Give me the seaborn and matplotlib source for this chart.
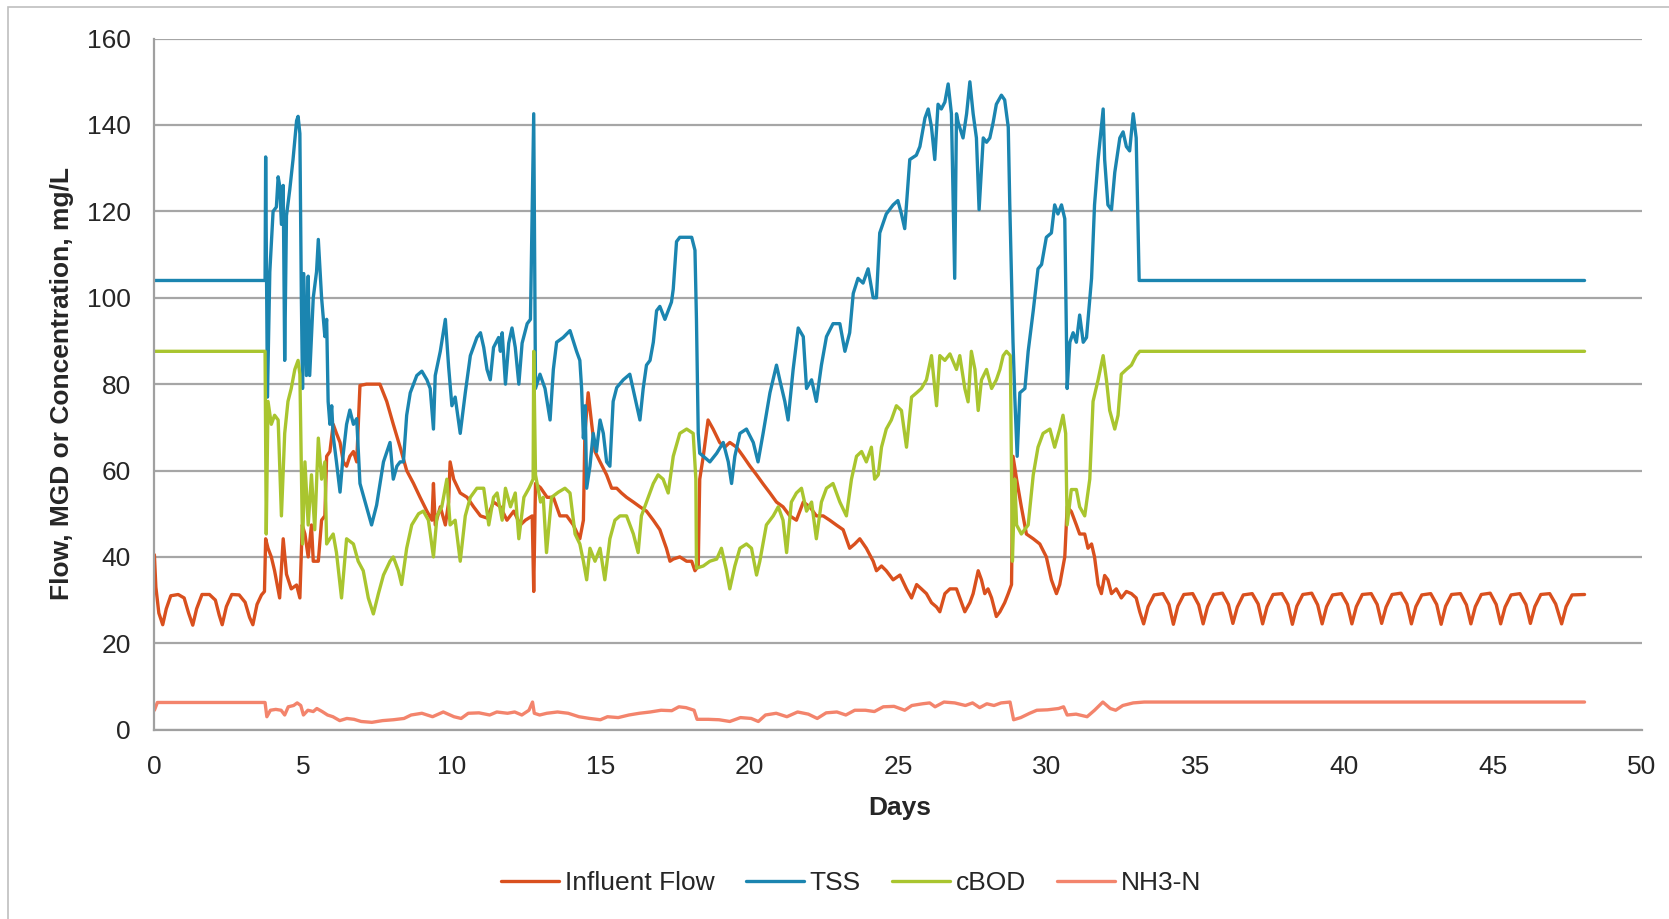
import pandas as pd
import matplotlib.pyplot as plt
import seaborn as sns
from matplotlib.patches import Rectangle

# Series (days, value)
flow_days = [0, 0.05, 0.15, 0.28, 0.4, 0.55, 0.8, 1.0, 1.15, 1.29, 1.42, 1.6, 1.85, 2.05, 2.18, 2.28, 2.42, 2.6,
             2.85, 3.05, 3.2, 3.31, 3.45, 3.6, 3.7, 3.74, 3.82, 3.93, 4.04, 4.21, 4.33, 4.44, 4.6, 4.78, 4.89,
             4.97, 5.06, 5.17, 5.28, 5.34, 5.51, 5.62, 5.73, 5.79, 5.9, 6.01, 6.12, 6.24, 6.35, 6.46, 6.57,
             6.69, 6.8, 6.91, 7.13, 7.36, 7.58, 7.81, 8.03, 8.26, 8.48, 8.71, 8.93, 9.16, 9.33, 9.38, 9.44,
             9.61, 9.78, 9.89, 9.94, 10.06, 10.28, 10.51, 10.73, 10.96, 11.18, 11.4, 11.63, 11.85, 12.08,
             12.3, 12.47, 12.7, 12.75, 12.81, 12.98, 13.2, 13.41, 13.63, 13.86, 14.08, 14.3, 14.42, 14.47,
             14.58, 14.7, 14.81, 14.98, 15.2, 15.37, 15.54, 15.7, 15.87, 16.1, 16.32, 16.54, 16.77, 16.99,
             17.21, 17.33, 17.44, 17.66, 17.89, 18.06, 18.17, 18.28, 18.33, 18.45, 18.61, 18.78, 19.0, 19.17,
             19.34, 19.57, 19.79, 20.02, 20.24, 20.46, 20.69, 20.91, 21.13, 21.36, 21.58, 21.81, 22.03,
             22.25, 22.48, 22.7, 22.92, 23.15, 23.37, 23.54, 23.71, 23.93, 24.16, 24.27, 24.44, 24.6, 24.83,
             25.06, 25.28, 25.45, 25.62, 25.78, 25.95, 26.12, 26.29, 26.4, 26.57, 26.74, 26.96, 27.07,
             27.24, 27.41, 27.52, 27.69, 27.8, 27.91, 28.02, 28.14, 28.3, 28.42, 28.58, 28.7, 28.81, 28.86,
             28.98, 29.14, 29.31, 29.54, 29.76, 29.98, 30.15, 30.32, 30.43, 30.6, 30.68, 30.82, 30.99, 31.1,
             31.27, 31.38, 31.5, 31.6, 31.72, 31.83, 31.94, 32.05, 32.17, 32.33, 32.5, 32.67, 32.84, 33.0,
             33.12,
             33.25, 33.4, 33.6, 33.9, 34.1,
             34.25, 34.4, 34.6, 34.9, 35.1,
             35.25, 35.4, 35.6, 35.9, 36.1,
             36.25, 36.4, 36.6, 36.9, 37.1,
             37.25, 37.4, 37.6, 37.9, 38.1,
             38.25, 38.4, 38.6, 38.9, 39.1,
             39.25, 39.4, 39.6, 39.9, 40.1,
             40.25, 40.4, 40.6, 40.9, 41.1,
             41.25, 41.4, 41.6, 41.9, 42.1,
             42.25, 42.4, 42.6, 42.9, 43.1,
             43.25, 43.4, 43.6, 43.9, 44.1,
             44.25, 44.4, 44.6, 44.9, 45.1,
             45.25, 45.4, 45.6, 45.9, 46.1,
             46.25, 46.4, 46.6, 46.9, 47.1,
             47.3, 47.45, 47.65, 48.07]
flow_vals = [40.5, 33, 27, 24.3, 28, 31, 31.3, 30.5, 27, 24.2, 28, 31.3, 31.3, 30, 26.5, 24.3, 28.5, 31.3,
             31.2, 29.5, 26, 24.3, 29, 31.2, 32, 44.2, 42, 40, 36.8, 30.5, 44.2, 36, 32.6, 33.5, 30.5,
             47.4, 45.3, 40, 47.4, 39, 39, 48.5, 49.5, 63.3, 64.4, 70.7, 68.6, 66.5, 62, 61, 63.3,
             64.4, 62, 79.7, 80, 80, 80, 76, 70.7, 65.4, 60, 57, 53.8, 50.6, 48.5, 57, 47.4,
             51.6, 47.4, 52.7, 62, 58, 54.8, 53.8, 51.6, 49.5, 49, 52.7, 51.6, 48.5, 50.6,
             47.4, 48.5, 49.5, 32, 57, 56, 53.8, 53.8, 49.5, 49.5, 47.4, 44.2, 48.5, 68.6,
             78, 70.7, 64.4, 62, 59, 55.9, 55.9, 54.8, 53.8, 52.7, 51.6, 50.6, 48.5, 46.3,
             42, 39, 39.5, 40, 39, 39, 36.8, 37.9, 58, 63.3, 71.7, 69.6, 66.5, 65.4,
             66.5, 65.4, 63.3, 61, 59, 56.9, 54.8, 52.7, 51.6, 49.5, 48.5, 52.7, 51.6,
             49.5, 49.5, 48.5, 47.4, 46.3, 42, 43, 44.2, 42, 39, 36.8, 37.9, 36.8, 34.7,
             35.8, 32.6, 30.5, 33.6, 32.6, 31.5, 29.4, 28.4, 27.3, 31.5, 32.6, 32.6, 30.5,
             27.3, 29.4, 31.5, 36.8, 34.7, 31.5, 32.6, 30.5, 26.2, 27.3, 29.4, 31.5, 33.6, 63.3,
             58, 51.6, 45.3, 44.2, 43, 40, 34.7, 31.5, 33.6, 40, 51.6, 50.5, 47.4, 45.3,
             45.3, 42, 43, 40, 33.6, 31.5, 35.7, 34.7, 31.5, 32.6, 30.5, 32, 31.5, 30.5,
             27.3,
             24.5, 28.5, 31.2, 31.5, 29.0,
             24.4, 28.6, 31.3, 31.5, 28.9,
             24.5, 28.5, 31.3, 31.6, 29.0,
             24.6, 28.4, 31.2, 31.5, 29.1,
             24.5, 28.5, 31.3, 31.5, 29.0,
             24.4, 28.6, 31.3, 31.6, 28.9,
             24.5, 28.5, 31.2, 31.5, 29.0,
             24.5, 28.5, 31.3, 31.5, 29.0,
             24.6, 28.4, 31.3, 31.6, 29.1,
             24.5, 28.5, 31.2, 31.5, 29.0,
             24.4, 28.6, 31.3, 31.5, 28.9,
             24.5, 28.5, 31.3, 31.6, 29.0,
             24.5, 28.4, 31.2, 31.5, 29.0,
             24.6, 28.5, 31.3, 31.5, 29.1,
             24.5, 28.5, 31.2, 31.3]

tss_days = [0, 3.72, 3.74, 3.80, 3.88, 3.99, 4.10, 4.16, 4.21, 4.27, 4.33, 4.38, 4.44, 4.55, 4.66, 4.78,
            4.83, 4.89, 4.94, 4.98, 5.02, 5.11, 5.17, 5.22, 5.34, 5.45, 5.51, 5.62, 5.73, 5.79, 5.84,
            5.90, 5.96, 6.01, 6.12, 6.24, 6.35, 6.46, 6.57, 6.69, 6.80, 6.91, 7.13, 7.30, 7.47, 7.70,
            7.92, 8.03, 8.15, 8.26, 8.37, 8.48, 8.60, 8.71, 8.82, 8.99, 9.16, 9.27, 9.38, 9.44, 9.61,
            9.78, 9.89, 10.0, 10.11, 10.28, 10.45, 10.62, 10.84, 10.96, 11.07, 11.18, 11.29, 11.40,
            11.57, 11.63, 11.69, 11.80, 11.91, 12.02, 12.13, 12.25, 12.36, 12.53, 12.64, 12.75, 12.81,
            12.96, 13.13, 13.3, 13.41, 13.52, 13.74, 13.97, 14.19, 14.3, 14.36, 14.42, 14.48, 14.53,
            14.64, 14.75, 14.86, 14.98, 15.09, 15.2, 15.31, 15.42, 15.54, 15.76, 15.98, 16.15, 16.32,
            16.43, 16.54, 16.66, 16.77, 16.88, 16.99, 17.16, 17.27, 17.38, 17.44, 17.55, 17.66, 17.89,
            18.06, 18.17, 18.22, 18.28, 18.33, 18.45, 18.67, 18.9, 19.12, 19.29, 19.4, 19.51, 19.68,
            19.9, 20.13, 20.29, 20.46, 20.69, 20.91, 21.02, 21.19, 21.3, 21.47, 21.64, 21.81, 21.92,
            22.09, 22.25, 22.42, 22.59, 22.81, 23.04, 23.21, 23.37, 23.49, 23.65, 23.82, 23.99, 24.16,
            24.27, 24.38, 24.6, 24.83, 24.99, 25.11, 25.22, 25.39, 25.61, 25.73, 25.9, 26.01, 26.12,
            26.23, 26.34, 26.45, 26.57, 26.68, 26.79, 26.9, 26.96, 27.02, 27.18, 27.3, 27.41, 27.52,
            27.63, 27.72, 27.8, 27.86, 27.97, 28.08, 28.19, 28.3, 28.47, 28.58, 28.7, 28.75, 28.81,
            28.86, 28.92, 29.0, 29.09, 29.26, 29.37, 29.54, 29.7, 29.82, 29.98, 30.15, 30.26, 30.37,
            30.49, 30.6, 30.68, 30.77, 30.88, 30.99, 31.1, 31.22, 31.33, 31.5, 31.6, 31.72, 31.83,
            31.89, 31.94, 32.05, 32.17, 32.28, 32.45, 32.56, 32.67, 32.78, 32.9, 33.0, 33.1, 48.07]
tss_vals = [104, 104, 132.6, 77, 106, 120, 121, 128, 126, 117, 126, 85.5, 119, 125, 132, 141,
            142, 138, 100, 79, 105.6, 82, 105, 82, 100, 106, 113.5, 100, 91, 95, 76,
            70.7, 75, 68, 62, 55, 64, 70.7, 74, 70.7, 72, 57, 51.6, 47.4, 52, 62,
            66.5, 58, 61, 62, 62, 72.8, 78, 80, 82, 83, 81, 79, 69.6, 82, 87.6,
            95, 84, 75, 77, 68.6, 78, 86.6, 90.8, 91.9, 88.5, 83.4, 81, 88.5,
            90.8, 87.6, 91.9, 80, 89.5, 93, 88.5, 80, 89.5, 94, 95, 142.6, 79,
            82.3, 79, 71.7, 83.4, 89.7, 90.8, 92.4, 87.6, 85.5, 79, 67.5, 75, 55.9,
            61, 68.6, 64.4, 71.7, 68.6, 62, 61, 76, 79.2, 81, 82.3, 77, 71.7,
            79, 84.4, 85.5, 89.7, 97, 98, 95, 97, 99, 102, 113, 114, 114,
            114, 111, 95, 68.6, 64, 63.3, 62, 64, 66.5, 62, 57, 63.3, 68.6,
            69.6, 66.5, 62, 68.6, 78, 84.4, 81, 76, 71.7, 83.4, 93, 91, 79,
            81, 76, 84.4, 91, 94, 94, 87.6, 91.9, 101, 104.5, 103.4, 106.7, 100,
            100, 115, 119.4, 121.5, 122.5, 119.4, 116, 132, 133, 135, 141.6, 143.7, 139.5,
            132, 144.8, 143.7, 145.3, 149.5, 142.6, 104.5, 142.6, 140.5, 137, 142.6, 150, 142.6,
            137, 120.4, 130, 137, 136, 137, 140.5, 144.8, 146.9, 145.8, 139.5, 122, 104.5,
            89.7, 77, 63.3, 78, 79, 87.6, 97, 106.7, 107.7, 114, 115, 121.5, 119.4,
            121.5, 118.3, 79, 89.7, 91.9, 89.7, 96, 89.7, 90.8, 104.5, 121.5, 132, 139.5,
            143.7, 132, 121.5, 120.4, 129, 137, 138.4, 135, 134, 142.6, 137, 104, 104]

cbod_days = [0, 3.72, 3.76, 3.82, 3.93, 4.04, 4.16, 4.27, 4.38, 4.49, 4.6, 4.72, 4.83, 4.89, 4.98, 5.06,
             5.17, 5.28, 5.39, 5.51, 5.62, 5.73, 5.79, 5.9, 6.01, 6.12, 6.29, 6.46, 6.69, 6.85, 7.02,
             7.19, 7.36, 7.53, 7.7, 7.92, 8.03, 8.2, 8.31, 8.48, 8.65, 8.88, 9.04, 9.21, 9.38, 9.5,
             9.66, 9.83, 9.94, 10.11, 10.28, 10.45, 10.62, 10.84, 11.07, 11.24, 11.4, 11.52, 11.69,
             11.8, 11.97, 12.13, 12.25, 12.42, 12.59, 12.73, 12.75, 12.81, 12.98, 13.07, 13.18, 13.35,
             13.58, 13.8, 13.97, 14.14, 14.3, 14.42, 14.53, 14.64, 14.81, 14.98, 15.14, 15.31, 15.48,
             15.65, 15.87, 16.1, 16.26, 16.37, 16.54, 16.77, 16.93, 17.1, 17.27, 17.44, 17.66, 17.89,
             18.11, 18.2, 18.22, 18.45, 18.67, 18.9, 19.06, 19.23, 19.34, 19.51, 19.68, 19.9, 20.07,
             20.24, 20.35, 20.57, 20.8, 20.97, 21.13, 21.25, 21.41, 21.58, 21.75, 21.92, 22.09, 22.25,
             22.42, 22.59, 22.81, 23.04, 23.26, 23.43, 23.6, 23.77, 23.93, 24.1, 24.21, 24.33, 24.44,
             24.6, 24.77, 24.94, 25.11, 25.28, 25.45, 25.62, 25.78, 25.95, 26.12, 26.29, 26.4, 26.57,
             26.74, 26.96, 27.07, 27.24, 27.35, 27.46, 27.58, 27.69, 27.8, 27.97, 28.14, 28.3, 28.42,
             28.53, 28.64, 28.77, 28.81, 28.84, 28.92, 28.98, 29.14, 29.37, 29.54, 29.7, 29.87, 30.1,
             30.26, 30.43, 30.54, 30.63, 30.68, 30.82, 30.99, 31.1, 31.27, 31.44, 31.55, 31.72, 31.89,
             32.0, 32.11, 32.28, 32.39, 32.5, 32.67, 32.84, 33.0, 33.12, 48.07]
cbod_vals = [87.6, 87.6, 45.3, 76, 70.7, 72.8, 71.7, 49.5, 68.6, 76, 79, 83.4, 85.5, 82.3, 43, 62,
             47.4, 59, 46.3, 67.5, 58, 62, 43, 44.2, 45.3, 41, 30.5, 44.2, 43, 39, 36.8,
             30.5, 26.8, 31.5, 35.8, 39, 40, 36.8, 33.6, 42, 47.4, 50, 50.6, 48.5, 40, 49.5,
             51.6, 58, 47.4, 48.5, 39, 49.5, 53.8, 55.9, 55.9, 47.4, 53.8, 54.8, 48.5,
             55.9, 51.6, 54.8, 44.2, 53.8, 55.9, 58, 87.6, 59, 52.7, 53.8, 41, 53.8,
             55, 55.9, 54.8, 45.3, 43, 39, 34.7, 42, 39, 42, 34.7, 44.2, 48.5,
             49.5, 49.5, 45.3, 41, 49.5, 52.7, 57, 59, 58, 54.8, 63.3, 68.6, 69.6,
             68.6, 58, 37.4, 37.9, 39, 39.5, 42, 36.8, 32.6, 37.9, 42, 43, 42,
             35.8, 39, 47.4, 49.5, 51.6, 48.5, 41, 52.7, 54.8, 55.9, 50.6, 52.7, 44.2,
             52.7, 55.9, 57, 52.7, 49.5, 58, 63.3, 64.4, 62, 65.4, 58, 59, 65.4,
             69.6, 71.7, 75, 73.9, 65.4, 77, 78, 79, 81, 86.6, 75, 86.6, 85.5,
             87, 83.4, 86.6, 79, 75.9, 87.6, 83.4, 73.9, 81, 83.4, 79, 81, 83.4,
             86.6, 87.6, 86.6, 58, 39, 58, 47.4, 45.3, 47.4, 59, 65.4, 68.6, 69.6,
             65.4, 69.6, 72.8, 68.6, 47.4, 55.6, 55.6, 51.6, 49.5, 58, 76, 81, 86.6,
             81, 73.9, 69.6, 72.8, 82.3, 83.4, 84.4, 86.6, 87.6, 87.6]

nh3_days = [0, 0.1, 3.72, 3.78, 3.9, 4.08, 4.26, 4.38, 4.5, 4.68, 4.8, 4.92, 5.01, 5.16, 5.34, 5.46, 5.64,
            5.82, 6.0, 6.23, 6.47, 6.71, 6.95, 7.31, 7.67, 8.03, 8.39, 8.63, 8.99, 9.35, 9.71, 10.07,
            10.31, 10.55, 10.91, 11.27, 11.51, 11.87, 12.11, 12.35, 12.59, 12.71, 12.77, 12.95, 13.19,
            13.55, 13.91, 14.27, 14.63, 14.99, 15.23, 15.59, 15.95, 16.3, 16.67, 17.03, 17.39, 17.63,
            17.87, 18.14, 18.24, 18.62, 18.98, 19.34, 19.7, 20.06, 20.3, 20.54, 20.9, 21.26, 21.62,
            21.98, 22.28, 22.58, 22.94, 23.24, 23.54, 23.9, 24.2, 24.5, 24.86, 25.22, 25.46, 25.82,
            26.06, 26.24, 26.54, 26.9, 27.26, 27.5, 27.74, 27.98, 28.22, 28.46, 28.76, 28.88, 29.12,
            29.42, 29.66, 30.02, 30.39, 30.56, 30.68, 30.98, 31.35, 31.6, 31.88, 32.13, 32.31, 32.55,
            32.9, 33.27, 48.07]
nh3_vals = [4.5, 6.3, 6.3, 3.0, 4.5, 4.7, 4.5, 3.4, 5.3, 5.6, 6.2, 5.6, 3.4, 4.5, 4.2, 4.9, 4.2,
            3.4, 3.0, 2.1, 2.6, 2.4, 1.9, 1.7, 2.1, 2.3, 2.6, 3.4, 3.8, 3.0, 4.1, 3.0,
            2.6, 3.8, 3.9, 3.4, 4.1, 3.8, 4.1, 3.4, 4.5, 6.4, 3.8, 3.4, 3.8,
            4.1, 3.8, 3.0, 2.6, 2.3, 3.0, 2.8, 3.4, 3.8, 4.1, 4.5, 4.4, 5.3,
            5.1, 4.5, 2.4, 2.4, 2.3, 1.9, 2.8, 2.6, 1.9, 3.4, 3.8, 3.0, 4.1,
            3.6, 2.6, 3.9, 4.1, 3.4, 4.5, 4.5, 4.2, 5.3, 5.4, 4.5, 5.6, 6.0,
            6.2, 5.3, 6.4, 6.2, 5.6, 6.2, 5.1, 6.0, 5.6, 6.2, 6.4, 2.3, 2.8,
            3.8, 4.5, 4.6, 4.9, 5.3, 3.4, 3.6, 3.0, 4.5, 6.4, 4.9, 4.5, 5.6,
            6.2, 6.4, 6.4]

series_names = ["Influent Flow", "TSS", "cBOD", "NH3-N"]
colors = {"Influent Flow": "#D9501E", "TSS": "#1B85B0", "cBOD": "#A9C52F", "NH3-N": "#F3846C"}

frames = []
for name, d, v in zip(series_names,
                      [flow_days, tss_days, cbod_days, nh3_days],
                      [flow_vals, tss_vals, cbod_vals, nh3_vals]):
    frames.append(pd.DataFrame({"Days": d, "Value": v, "Series": name}))
df = pd.concat(frames, ignore_index=True)

sns.set_theme(style="white")
plt.rcParams["font.family"] = ["Liberation Sans", "DejaVu Sans"]

fig = plt.figure(figsize=(16.69, 9.19), dpi=100)
ax = fig.add_axes([0.0925, 0.206, 0.8913, 0.752])

sns.lineplot(data=df, x="Days", y="Value", hue="Series", hue_order=series_names,
             palette=colors, estimator=None, sort=False, linewidth=2.4, legend=False, ax=ax)

ax.set_xlim(0, 50)
ax.set_ylim(0, 160)
ax.set_xticks(range(0, 51, 5))
ax.set_yticks(range(0, 161, 20))
ax.yaxis.grid(True, color="#A6A6A6", linewidth=1.6)
ax.set_axisbelow(True)
for s in ["top", "right"]:
    ax.spines[s].set_visible(False)
for s in ["left", "bottom"]:
    ax.spines[s].set_color("#A0A0A0")
    ax.spines[s].set_linewidth(1.6)
ax.tick_params(axis="both", direction="out", length=5, width=1.4, color="#A0A0A0",
               labelsize=19, labelcolor="#262626")
ax.tick_params(axis="y", pad=12)
ax.tick_params(axis="x", pad=13)
ax.set_xlabel("")
ax.set_ylabel("")

fig.text(0.539, 0.121, "Days", ha="center", va="center", fontsize=19, fontweight="bold", color="#262626")
fig.text(0.037, 0.583, "Flow, MGD or Concentration, mg/L", ha="center", va="center", rotation=90,
         fontsize=19, fontweight="bold", color="#262626")

fig.legend(handles=ax.lines[:4], labels=series_names, loc="center", bbox_to_anchor=(0.51, 0.039),
           ncol=4, frameon=False, fontsize=19, handlelength=2.2, handletextpad=0.2,
           columnspacing=1.2, labelcolor="#262626")

fig.patches.append(Rectangle((0.005, -0.05), 1.2, 0.992 + 0.05, transform=fig.transFigure,
                             fill=False, edgecolor="#BFBFBF", linewidth=1.2))

fig.savefig("out.png", dpi=100)
